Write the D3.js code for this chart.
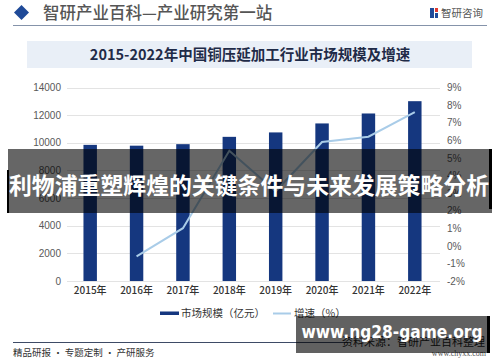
<!DOCTYPE html>
<html><head><meta charset="utf-8">
<script src="https://cdn.jsdelivr.net/npm/d3@7"></script>
<style>html,body{margin:0;padding:0;background:#fff;}svg{display:block;}</style>
</head><body>
<script>
const years = ["2015年","2016年","2017年","2018年","2019年","2020年","2021年","2022年"];
const marketSize = [9850, 9790, 9900, 10430, 10750, 11400, 12120, 13010];
const growthRate = [null, -0.6, 1.0, 5.4, 3.1, 5.9, 6.2, 7.6];
const leftTicks = [0, 2000, 4000, 6000, 8000, 10000, 12000, 14000];
const rightTicks = [-2, -1, 0, 1, 2, 3, 4, 5, 6, 7, 8, 9];
const headerText = "智研产业百科—产业研究第一站";
const titleText = "2015-2022年中国铜压延加工行业市场规模及增速";
const legendLabels = ["市场规模（亿元）", "增速（%）"];
const bannerText = "利物浦重塑辉煌的关键条件与未来发展策略分析";
const siteText = "www.ng28-game.org";

const W = 500, H = 362;
const cjk = "'Noto Sans CJK SC','Noto Sans',sans-serif";
const latin = "'Liberation Sans',Arial,'Noto Sans CJK SC',sans-serif";
const svg = d3.select("body").append("svg").attr("width", W).attr("height", H);
svg.append("rect").attr("width", W).attr("height", H).attr("fill", "#fff");

// Header
svg.append("path").attr("d", "M21.5,5 L29,12.5 L21.5,20 L14,12.5 Z").attr("fill", "#1f4a98");
svg.append("text").attr("x", 43).attr("y", 18.5).attr("font-family", cjk).attr("font-size", 16.5)
  .attr("font-weight", 500).attr("fill", "#555").text(headerText);
const logo = svg.append("g");
logo.append("rect").attr("x", 430).attr("y", 8).attr("width", 4).attr("height", 10).attr("fill", "#1f4a98");
logo.append("rect").attr("x", 435).attr("y", 8).attr("width", 3).attr("height", 4).attr("fill", "#e03a2f");
logo.append("rect").attr("x", 435).attr("y", 13).attr("width", 3).attr("height", 5).attr("fill", "#1f4a98");
svg.append("text").attr("x", 441).attr("y", 17).attr("font-family", cjk).attr("font-size", 10.5)
  .attr("fill", "#555").text("智研咨询");
svg.append("line").attr("x1", 13).attr("x2", 487).attr("y1", 25.5).attr("y2", 25.5)
  .attr("stroke", "#8593aa").attr("stroke-width", 1);

// Title box
svg.append("rect").attr("x", 27).attr("y", 41).attr("width", 445).attr("height", 27).attr("fill", "#e9eff7");
svg.append("text").attr("x", 250).attr("y", 59.5).attr("text-anchor", "middle").attr("font-family", cjk)
  .attr("font-size", 14.5).attr("font-weight", 700).attr("fill", "#1f2b48").text(titleText);

// Scales
const x = d3.scaleBand().domain(years).range([67, 438]).paddingInner(0.71).paddingOuter(0.355);
const yL = d3.scaleLinear().domain([0, 14000]).range([281, 87.5]);
const yR = d3.scaleLinear().domain([-2, 9]).range([281, 87.5]);

// Gridlines
svg.append("g").selectAll("line").data(leftTicks).join("line")
  .attr("x1", 67).attr("x2", 440).attr("y1", d => Math.round(yL(d)) + 0.5).attr("y2", d => Math.round(yL(d)) + 0.5)
  .attr("stroke", "#e3e3e3").attr("stroke-width", 1);

// Axes
const axL = svg.append("g").attr("transform", "translate(61,0)")
  .call(d3.axisLeft(yL).tickValues(leftTicks).tickSize(0).tickPadding(0).tickFormat(d3.format("d")));
axL.select(".domain").remove();
axL.selectAll("text").attr("font-family", latin).attr("font-size", 10).attr("fill", "#595959");

const axR = svg.append("g").attr("transform", "translate(447,0)")
  .call(d3.axisRight(yR).tickValues(rightTicks).tickSize(0).tickPadding(0).tickFormat(d => d + "%"));
axR.select(".domain").remove();
axR.selectAll("text").attr("font-family", latin).attr("font-size", 10).attr("fill", "#595959");

const axB = svg.append("g").attr("transform", "translate(0,285)")
  .call(d3.axisBottom(x).tickSize(0).tickPadding(0));
axB.select(".domain").remove();
axB.selectAll("text").attr("font-family", cjk).attr("font-size", 10).attr("font-weight", 500)
  .attr("fill", "#333").attr("dy", "0.9em");

// Bars
svg.append("g").selectAll("rect").data(marketSize).join("rect")
  .attr("x", (d, i) => x(years[i])).attr("width", x.bandwidth())
  .attr("y", d => yL(d)).attr("height", d => yL(0) - yL(d)).attr("fill", "#15377f");

// Growth line
const pts = growthRate.map((v, i) => [v, i]).filter(p => p[0] !== null);
svg.append("path").datum(pts)
  .attr("d", d3.line().x(p => x(years[p[1]]) + x.bandwidth() / 2).y(p => yR(p[0])))
  .attr("fill", "none").attr("stroke", "#a9cce8").attr("stroke-width", 2);

// Legend
svg.append("rect").attr("x", 160).attr("y", 311.5).attr("width", 19).attr("height", 3.5).attr("fill", "#15377f");
svg.append("text").attr("x", 181).attr("y", 317).attr("font-family", cjk).attr("font-size", 10.5)
  .attr("fill", "#333").text(legendLabels[0]);
svg.append("line").attr("x1", 273).attr("x2", 291).attr("y1", 313.5).attr("y2", 313.5)
  .attr("stroke", "#a9cce8").attr("stroke-width", 2);
svg.append("text").attr("x", 294).attr("y", 317).attr("font-family", cjk).attr("font-size", 10.5)
  .attr("fill", "#333").text(legendLabels[1]);

// Footer
svg.append("line").attr("x1", 13).attr("x2", 348).attr("y1", 342.5).attr("y2", 342.5)
  .attr("stroke", "#3e4b66").attr("stroke-width", 1);
svg.append("text").attr("x", 485).attr("y", 346).attr("text-anchor", "end").attr("font-family", cjk)
  .attr("font-size", 11).attr("fill", "#222").text("资料来源：智研产业百科整理");
svg.append("text").attr("x", 13).attr("y", 356).attr("font-family", cjk).attr("font-size", 9.5)
  .attr("fill", "#333").text("精品研报 · 专题定制 · 产研服务");
svg.append("text").attr("x", 486).attr("y", 356).attr("text-anchor", "end").attr("font-family", "'Liberation Serif',serif")
  .attr("font-size", 8).attr("fill", "#555").text("www.chyxx.com");

// Banner overlay
svg.append("rect").attr("x", 8).attr("y", 149).attr("width", 484).attr("height", 64).attr("fill", "rgba(0,0,0,0.6)");
svg.append("rect").attr("x", 7).attr("y", 170).attr("width", 2).attr("height", 43).attr("fill", "#000");
svg.append("rect").attr("x", 489).attr("y", 149).attr("width", 3).attr("height", 60).attr("fill", "#000");
svg.append("text").attr("x", 249).attr("y", 193.5).attr("text-anchor", "middle").attr("font-family", cjk)
  .attr("font-size", 23).attr("font-weight", 700).attr("fill", "#fff").attr("textLength", 480)
  .attr("lengthAdjust", "spacingAndGlyphs").text(bannerText);

// Site overlay
svg.append("rect").attr("x", 296).attr("y", 316).attr("width", 194).attr("height", 37).attr("fill", "rgba(0,0,0,0.62)");
svg.append("rect").attr("x", 487).attr("y", 316).attr("width", 3).attr("height", 37).attr("fill", "#000");
svg.append("text").attr("x", 392).attr("y", 337.5).attr("text-anchor", "middle").attr("font-family", "'DejaVu Sans',sans-serif")
  .attr("font-size", 18).attr("font-weight", 700).attr("fill", "#fff").attr("textLength", 181)
  .attr("lengthAdjust", "spacingAndGlyphs").text(siteText);
</script>
</body></html>
